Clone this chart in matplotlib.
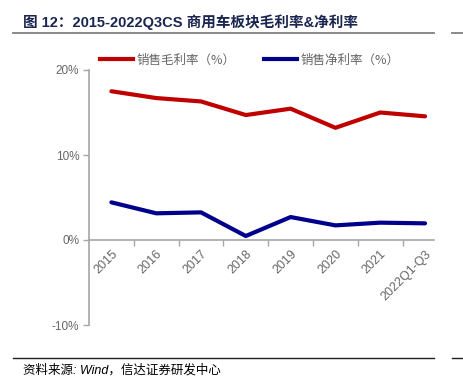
import matplotlib.pyplot as plt
from matplotlib.lines import Line2D

plt.rcParams['font.family'] = ['Liberation Sans', 'Noto Sans CJK SC', 'DejaVu Sans']

years = ["2015", "2016", "2017", "2018", "2019", "2020", "2021", "2022Q1-Q3"]
gross_margin = [17.5, 16.7, 16.3, 14.7, 15.45, 13.2, 15.0, 14.55]
net_margin = [4.43, 3.14, 3.25, 0.47, 2.7, 1.72, 2.04, 1.96]
yticks = [-10, 0, 10, 20]

RED = "#c00000"
BLUE = "#00008c"
GRAY = "#a6a6a6"
TXT = "#666666"

fig = plt.figure(figsize=(4.64, 3.90), dpi=100)
ax = fig.add_axes([89 / 464, 1 - 325 / 390, (434 - 89) / 464, 255 / 390])

x = list(range(len(years)))
ax.plot(x, gross_margin, color=RED, lw=3, solid_capstyle="round")
ax.plot(x, net_margin, color=BLUE, lw=3, solid_capstyle="round")

# spines first: set_position resets the ticks
for s in ["top", "right"]:
    ax.spines[s].set_visible(False)
ax.spines["left"].set_color(GRAY)
ax.spines["left"].set_linewidth(1.2)
ax.spines["bottom"].set_position(("data", 0))
ax.spines["bottom"].set_color(GRAY)
ax.spines["bottom"].set_linewidth(1.2)

ax.set_xlim(-0.5, 7.2)
ax.set_ylim(-10, 20)
ax.set_yticks(yticks)
ax.set_yticklabels([f"{v}%" for v in yticks], color=TXT, fontsize=8.5)
ax.tick_params(axis="y", length=4, color=GRAY, width=1, pad=3)

ax.set_xticks(x)
ax.set_xticks([i + 0.5 for i in range(7)], minor=True)
ax.tick_params(axis="x", which="major", length=0, pad=6)
ax.tick_params(axis="x", which="minor", length=4, color=GRAY, width=1)
ax.set_xticklabels(years, color=TXT, fontsize=9, rotation=45, ha="right",
                   va="top", rotation_mode="anchor")

# legend
handles = [Line2D([0], [0], color=RED, lw=3), Line2D([0], [0], color=BLUE, lw=3)]
fig.legend(handles, ["销售毛利率（%）", "销售净利率（%）"], loc="center",
           bbox_to_anchor=(250 / 464, 1 - 60 / 390), ncol=2, frameon=False,
           labelcolor=TXT, handlelength=2.6, handletextpad=0.3,
           columnspacing=2.3, prop={"family": ["Noto Sans CJK SC"], "size": 9})

# title and frame lines
fig.text(23 / 464, 1 - 22 / 390, "图 12：2015-2022Q3CS 商用车板块毛利率&净利率",
         fontsize=10.5, fontweight="bold", color="#1a2550", va="center", ha="left",
         family=["Liberation Sans", "Noto Sans CJK SC"])
fig.add_artist(Line2D([13 / 464, 434 / 464], [1 - 33 / 390] * 2, color="#808080", lw=1.3))
fig.add_artist(Line2D([452 / 464, 1.0], [1 - 33 / 390] * 2, color="#808080", lw=1.3))
fig.add_artist(Line2D([13 / 464, 434 / 464], [1 - 358 / 390] * 2, color="#202020", lw=1))
fig.add_artist(Line2D([452 / 464, 1.0], [1 - 358 / 390] * 2, color="#202020", lw=1))

fig.text(23 / 464, 1 - 370 / 390, "资料来源: Wind，信达证券研发中心", fontsize=9,
         style="italic", color="#000000", va="center", ha="left",
         family=["Liberation Sans", "Noto Sans CJK SC"])

fig.savefig("out.png", dpi=100)
